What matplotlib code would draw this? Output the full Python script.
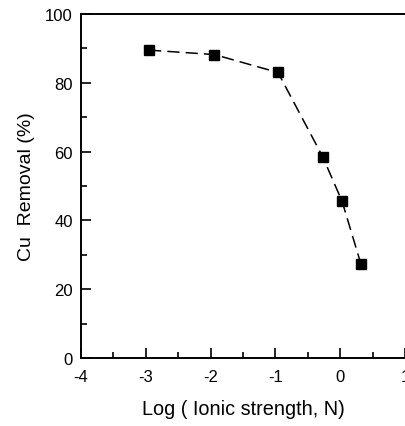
import matplotlib
matplotlib.use("Agg")
import matplotlib.pyplot as plt
from matplotlib.ticker import MultipleLocator

log_ionic_strength = [-2.95, -1.94, -0.96, -0.27, 0.03, 0.32]
cu_removal = [89.5, 88.2, 83.0, 58.5, 45.5, 27.3]

plt.rcParams['font.family'] = ['Liberation Sans', 'DejaVu Sans']
plt.rcParams['axes.unicode_minus'] = False

fig = plt.figure(figsize=(4.05, 4.27), dpi=100)
ax = fig.add_axes([81/405, 1 - 359/427, 324/405, (359-15)/427])

ax.plot(log_ionic_strength, cu_removal, color='black', linestyle=(0, (8, 4)),
        linewidth=1.1, marker='s', markersize=6.5, markerfacecolor='black',
        markeredgecolor='black')

ax.set_xlim(-4, 1)
ax.set_ylim(0, 100)
ax.xaxis.set_major_locator(MultipleLocator(1))
ax.xaxis.set_minor_locator(MultipleLocator(0.5))
ax.yaxis.set_major_locator(MultipleLocator(20))
ax.yaxis.set_minor_locator(MultipleLocator(10))
ax.tick_params(which='both', direction='in', width=1.2, labelsize=12)
ax.tick_params(which='major', length=7)
ax.tick_params(which='minor', length=4)
ax.tick_params(axis='x', pad=8)
ax.tick_params(axis='y', pad=6)
for s in ax.spines.values():
    s.set_linewidth(1.4)
ax.spines['right'].set_visible(False)

ax.set_xlabel('Log ( Ionic strength, N)', fontsize=14.3, labelpad=11)
ax.set_ylabel('Cu  Removal (%)', fontsize=14, labelpad=7)

fig.savefig('out.png', dpi=100)
